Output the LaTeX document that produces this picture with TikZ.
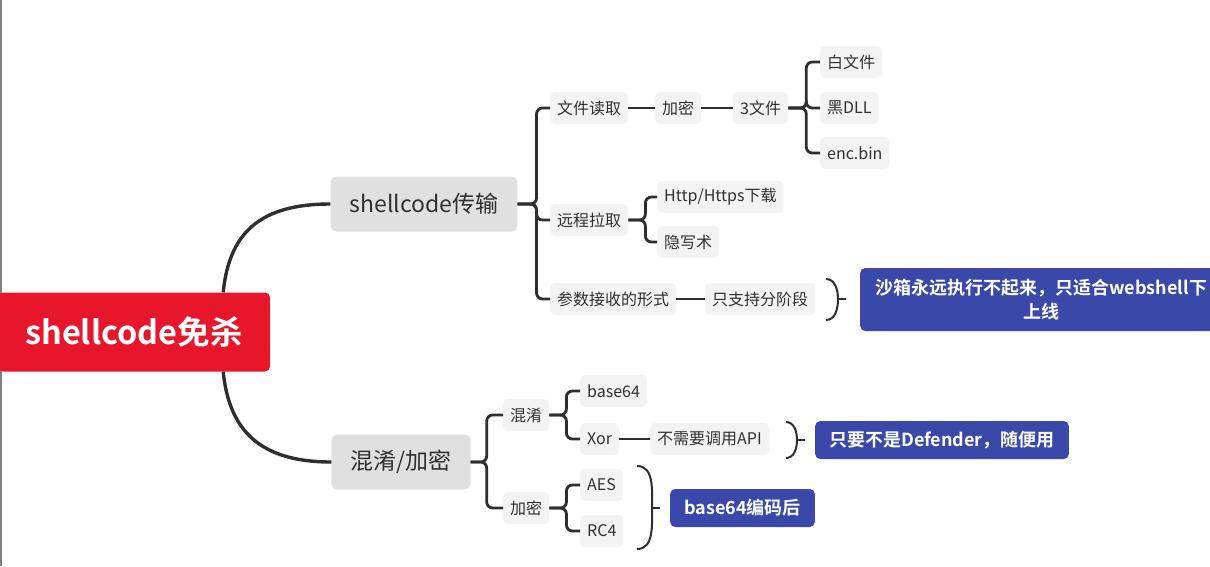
\documentclass[tikz,border=0pt]{standalone}
\usepackage{fontspec}
\setmainfont{Noto Sans CJK SC}[BoldFont={Noto Sans CJK SC Bold}]
\usetikzlibrary{positioning}
\definecolor{rootred}{HTML}{E8162B}
\definecolor{topicgray}{HTML}{E0E0E0}
\definecolor{leafgray}{HTML}{F3F3F3}
\definecolor{noteblue}{HTML}{3A49A9}
\definecolor{linedark}{HTML}{2E2E2E}
\definecolor{textdark}{HTML}{303030}
\tikzset{
  rootbox/.style ={fill=rootred, text=white, rounded corners=5pt,
                   minimum width=272, minimum height=79, inner sep=0pt,
                   font=\fontsize{32.5}{34}\selectfont\bfseries},
  topic/.style   ={fill=topicgray, text=textdark, rounded corners=6pt,
                   minimum height=55, inner xsep=19pt,
                   font=\fontsize{23}{26}\selectfont},
  leaf/.style    ={fill=leafgray, text=textdark, rounded corners=5pt,
                   minimum height=32, inner xsep=7pt, anchor=west,
                   font=\fontsize{16}{19}\selectfont},
  note/.style    ={fill=noteblue, text=white, rounded corners=5pt,
                   minimum height=38, inner xsep=14pt, anchor=west,
                   font=\fontsize{18}{24}\selectfont\bfseries},
  % connectors
  trunk/.style   ={draw=linedark, line width=3.4pt},
  conn/.style    ={draw=linedark, line width=2.8pt, rounded corners=6pt},
  brace/.style   ={draw=linedark, line width=2pt},
}

\begin{document}
\begin{tikzpicture}[x=1pt, y=-1pt]
  \useasboundingbox (0,0) rectangle (1210,566);
  \draw[gray, line width=2pt] (1,0) -- (1,566);
  % ---- root and main topics
  \node[rootbox] (root) at (134,332) {shellcode免杀};
  \node[topic]   (tx)   at (424,204) {shellcode传输};
  \node[topic]   (hx)   at (401,462) {混淆/加密};
  \draw[trunk] ([xshift=-47pt]root.north east)
    .. controls +(6,-60) and +(-70,0) .. (tx.west);
  \draw[trunk] ([xshift=-47pt]root.south east)
    .. controls +(6,60) and +(-70,0) .. (hx.west);
  % ---- shellcode transfer
  \node[leaf] (read)   at (550,108) {文件读取};
  \node[leaf] (crypt)  at (655,108) {加密};
  \node[leaf] (three)  at (733,108) {3文件};
  \node[leaf] (white)  at (820,62)  {白文件};
  \node[leaf] (dll)    at (820,108) {黑DLL};
  \node[leaf] (bin)    at (820,153) {enc.bin};
  \node[leaf] (remote) at (550,220) {远程拉取};
  \node[leaf] (http)   at (657,197) {Http/Https下载};
  \node[leaf] (stego)  at (657,242) {隐写术};
  \node[leaf] (param)  at (550,299) {参数接收的形式};
  \node[leaf] (stage)  at (705,299) {只支持分阶段};
  \node[note, align=center, minimum width=362, minimum height=63]
    (sandbox) at (860,299.5) {沙箱永远执行不起来，只适合webshell下\\上线};
  \draw[conn] (tx.east) -- ++(19,0) |- (read.west);
  \draw[conn] (tx.east) -- ++(19,0) |- (remote.west);
  \draw[conn] (tx.east) -- ++(19,0) |- (param.west);
  \draw[conn] (read.east) -- (crypt.west);
  \draw[conn] (crypt.east) -- (three.west);
  \foreach \c in {white, dll, bin}
    \draw[conn] (three.east) -- ++(18,0) |- (\c.west);
  \foreach \c in {http, stego}
    \draw[conn] (remote.east) -- ++(17,0) |- (\c.west);
  \draw[conn] (param.east) -- (stage.west);
  \coordinate (s1) at (826,279);
  \coordinate (s2) at (838,299);
  \coordinate (s3) at (826,320);
  \draw[brace] (s1) to[out=0, in=90] (s2) to[out=-90, in=0] (s3);
  \draw[brace] (s2) -- ++(8,0);
  % ---- obfuscation / encryption
  \node[leaf] (obf)    at (503,415) {混淆};
  \node[leaf] (b64)    at (580,391) {base64};
  \node[leaf] (xor)    at (580,439) {Xor};
  \node[leaf] (api)    at (650,439) {不需要调用API};
  \node[note] (defend) at (815,440) {只要不是Defender，随便用};
  \node[leaf] (enc)    at (503,508) {加密};
  \node[leaf] (aes)    at (580,485) {AES};
  \node[leaf] (rc)     at (580,531) {RC4};
  \node[note] (after)  at (670,508) {base64编码后};
  \draw[conn] (hx.east) -- ++(16,0) |- (obf.west);
  \draw[conn] (hx.east) -- ++(16,0) |- (enc.west);
  \foreach \c in {b64, xor}
    \draw[conn] (obf.east) -- ++(17,0) |- (\c.west);
  \draw[conn] (xor.east) -- (api.west);
  \foreach \c in {aes, rc}
    \draw[conn] (enc.east) -- ++(17,0) |- (\c.west);
  \coordinate (a1) at (786,422);
  \coordinate (a2) at (797,440);
  \coordinate (a3) at (786,458);
  \draw[brace] (a1) to[out=0, in=90] (a2) to[out=-90, in=0] (a3);
  \draw[brace] (a2) -- ++(8,0);
  \coordinate (e1) at (637,466);
  \coordinate (e2) at (652,508);
  \coordinate (e3) at (637,549);
  \draw[brace] (e1) to[out=0, in=90] (e2) to[out=-90, in=0] (e3);
  \draw[brace] (e2) -- ++(8,0);
\end{tikzpicture}
\end{document}
